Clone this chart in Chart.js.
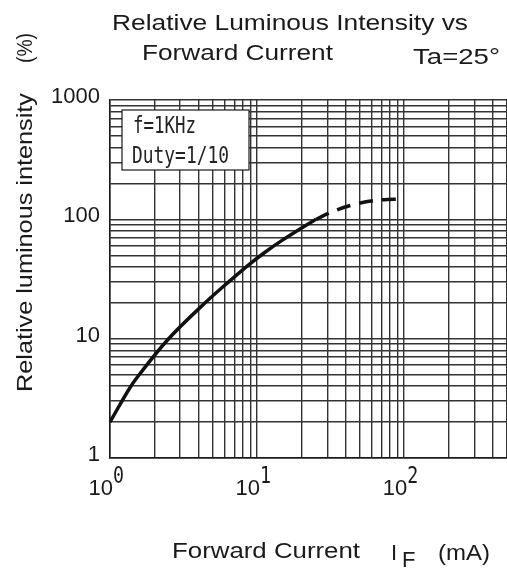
<!DOCTYPE html>
<html>
<head>
<meta charset="utf-8">
<script src="https://cdn.jsdelivr.net/npm/chart.js@4.4.0/dist/chart.umd.min.js"></script>
<style>
  html, body { margin: 0; padding: 0; background: #fff; overflow: hidden; }
</style>
</head>
<body>
<canvas id="chart" width="507" height="569"></canvas>
<script>
// forward current (mA) vs relative luminous intensity (%)
const currentSolid = [1, 1.38, 1.64, 2.46, 4.4, 6.24, 8.85, 11.2, 14.6, 22.4, 25.2];
const intensitySolid = [2.0, 3.96, 5.3, 9.75, 19.8, 29.1, 42, 52.5, 66, 92, 100];
const currentDashed = [25.2, 30.5, 42.4, 64.2, 100];
const intensityDashed = [100, 112, 130, 144, 148];

// grid lines and labels
const xGrid = [1, 2, 3, 4, 5, 6, 7, 8, 9, 10, 20, 30, 40, 50, 60, 70, 80, 90, 100, 200, 300, 400, 500];
const yGrid = [1, 2, 3, 4, 5, 6, 7, 8, 9, 10, 20, 30, 40, 50, 60, 70, 80, 90,
  100, 200, 300, 400, 500, 600, 700, 800, 900, 1000];
const xDecades = [1, 10, 100];
const xExponents = ['0', '1', '2'];
const yLabels = [1, 10, 100, 1000];

const INK = '#1a1a1a';
const SANS = '"Liberation Sans", Arial, sans-serif';
const MONO = '"DejaVu Sans Mono", monospace';

const toPoints = (xs, ys) => xs.map((x, i) => ({ x: x, y: ys[i] }));

// draw text squeezed/stretched to fit between x0 and x1
function fitText(ctx, text, x0, x1, baseline, font) {
  ctx.save();
  ctx.font = font;
  const w = ctx.measureText(text).width;
  ctx.translate(x0, baseline);
  ctx.scale((x1 - x0) / w, 1);
  ctx.textAlign = 'left';
  ctx.textBaseline = 'alphabetic';
  ctx.fillText(text, 0, 0);
  ctx.restore();
}

const notePlugin = {
  id: 'note',
  afterDatasetsDraw(chart) {
    const ctx = chart.ctx;
    const a = chart.chartArea;
    const bx = a.left + 12, by = a.top + 10;
    ctx.save();
    ctx.fillStyle = '#fff';
    ctx.fillRect(bx, by, 127, 60);
    ctx.strokeStyle = INK;
    ctx.lineWidth = 1.2;
    ctx.strokeRect(bx, by, 127, 60);
    ctx.fillStyle = '#222';
    fitText(ctx, 'f=1KHz', bx + 11, bx + 74, by + 23, '23px ' + MONO);
    fitText(ctx, 'Duty=1/10', bx + 10, bx + 107, by + 53, '23px ' + MONO);
    ctx.restore();
  }
};

const textPlugin = {
  id: 'texts',
  afterDraw(chart) {
    const ctx = chart.ctx;
    const xs = chart.scales.x;
    ctx.save();
    ctx.fillStyle = INK;

    // titles
    fitText(ctx, 'Relative Luminous Intensity vs', 112, 468, 29.5, '22px ' + SANS);
    fitText(ctx, 'Forward Current', 142, 333, 59.5, '22px ' + SANS);
    fitText(ctx, 'Ta=25°', 413, 500, 64, '22px ' + SANS);

    // x tick labels 10^n
    xDecades.forEach((v, i) => {
      const px = xs.getPixelForValue(v);
      ctx.font = '22px ' + SANS;
      ctx.textAlign = 'right';
      ctx.fillText('10', px + 3, 495);
      fitText(ctx, xExponents[i], px + 3, px + 14, 483, '23px ' + MONO);
    });

    // x axis title
    fitText(ctx, 'Forward Current', 172, 360, 558, '22px ' + SANS);
    ctx.font = '22px ' + SANS;
    ctx.textAlign = 'left';
    ctx.fillText('I', 391, 560);
    ctx.fillText('F', 402, 567);
    fitText(ctx, '(mA)', 438, 490, 560, '22px ' + SANS);

    // y axis title, rotated
    ctx.translate(32, 392);
    ctx.rotate(-Math.PI / 2);
    fitText(ctx, 'Relative luminous intensity', 0, 299, 0, '22px ' + SANS);
    fitText(ctx, '(%)', 329, 359, 0, '22px ' + SANS);
    ctx.restore();
  }
};

new Chart(document.getElementById('chart'), {
  type: 'line',
  data: {
    datasets: [
      {
        data: toPoints(currentSolid, intensitySolid),
        borderColor: '#111',
        borderWidth: 3.5,
        pointRadius: 0,
        cubicInterpolationMode: 'monotone',
        fill: false
      },
      {
        data: toPoints(currentDashed, intensityDashed),
        borderColor: '#111',
        borderWidth: 3.5,
        borderDash: [14, 9],
        pointRadius: 0,
        cubicInterpolationMode: 'monotone',
        fill: false
      }
    ]
  },
  options: {
    responsive: false,
    animation: false,
    layout: { padding: { top: 100, right: 0, bottom: 0, left: 0 } },
    plugins: { legend: { display: false }, tooltip: { enabled: false } },
    scales: {
      x: {
        type: 'logarithmic',
        min: 1,
        max: 500,
        afterBuildTicks: (scale) => { scale.ticks = xGrid.map(v => ({ value: v })); },
        afterFit: (scale) => { scale.height = 111; },
        ticks: { display: false },
        grid: { color: '#333', lineWidth: 1.4, drawTicks: false },
        border: { color: INK, width: 1.5 }
      },
      y: {
        type: 'logarithmic',
        min: 1,
        max: 1000,
        afterBuildTicks: (scale) => { scale.ticks = yGrid.map(v => ({ value: v })); },
        afterFit: (scale) => { scale.width = 110; },
        ticks: {
          autoSkip: false,
          padding: 10,
          labelOffset: -3,
          color: INK,
          font: { family: SANS, size: 22 },
          callback: (v) => (yLabels.includes(v) ? String(v) : '')
        },
        grid: { color: '#333', lineWidth: 1.4, drawTicks: false },
        border: { color: INK, width: 1.5 }
      }
    }
  },
  plugins: [notePlugin, textPlugin]
});
</script>
</body>
</html>
